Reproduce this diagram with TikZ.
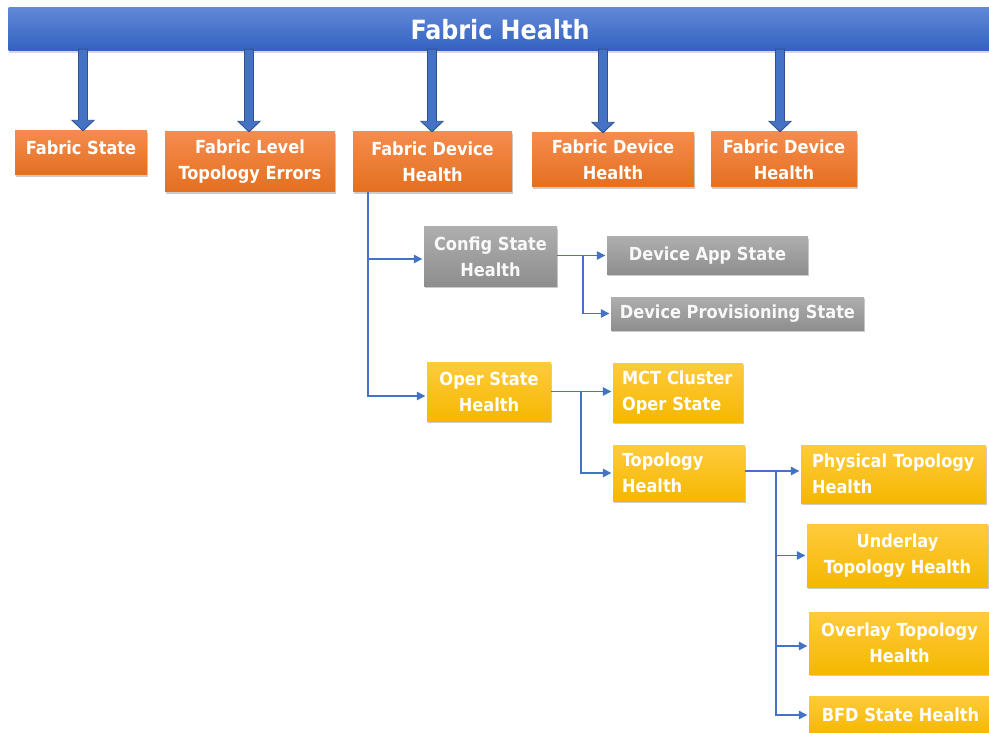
\documentclass[tikz,border=0pt]{standalone}
\usepackage{fontspec}
\newfontfamily\dvs{DejaVu Sans Condensed}
\usetikzlibrary{arrows.meta,shadows,calc}
\definecolor{barA}{HTML}{6189D8}
\definecolor{barB}{HTML}{3261C0}
\definecolor{orA}{HTML}{F48C4E}
\definecolor{orB}{HTML}{E46F1F}
\definecolor{grA}{HTML}{AEAEAE}
\definecolor{grB}{HTML}{8E8E8E}
\definecolor{yeA}{HTML}{FFCB3D}
\definecolor{yeB}{HTML}{F4B800}
\definecolor{arrBlue}{HTML}{4472C4}
\definecolor{arrDark}{HTML}{2F528F}
\definecolor{lineBlue}{HTML}{4472C4}
\newcommand\fatArr[2]{%
  \path[fatarr] let \p1=(#1.north), \p2=(bar.south) in
   (#2pt-4.5pt,\y2+2pt) -- (#2pt-4.5pt,\y1+10.5pt) -- (#2pt-11pt,\y1+10.5pt) --
   (#2pt,\y1) -- (#2pt+11pt,\y1+10.5pt) -- (#2pt+4.5pt,\y1+10.5pt) --
   (#2pt+4.5pt,\y2+2pt) -- cycle;}
\begin{document}
\begin{tikzpicture}[x=1pt,y=-1pt,
  box/.style={rectangle, inner sep=0pt, text=white,
    font=\dvs\bfseries\fontsize{18}{26}\selectfont, align=center,
    drop shadow={shadow xshift=0.8pt, shadow yshift=-2.2pt, opacity=0.4}},
  orange/.style={box, top color=orA, bottom color=orB},
  grey/.style={box, top color=grA, bottom color=grB, text=white!95!gray},
  yel/.style={box, top color=yeA, bottom color=yeB},
  lbox/.style={align=left, inner xsep=9pt, text width=#1},
  sz/.style 2 args={minimum width=#1pt, minimum height=#2pt},
  fatarr/.style={fill=arrBlue, draw=arrDark, line width=0.9pt},
  conn/.style={draw=lineBlue, line width=1.4pt, shorten >=1.5pt,
    -{Triangle[width=8.5pt,length=8.5pt]}}]
\useasboundingbox (0,0) rectangle (989,733);
\fill[white] (0,0) rectangle (989,733);
% title bar
\node[rectangle, top color=barA, bottom color=barB, text=white,
  font=\dvs\bfseries\fontsize{26.5}{30}\selectfont,
  drop shadow={shadow xshift=0.6pt, shadow yshift=-2pt, opacity=0.3},
  sz={983}{43.5}] (bar) at (500,29.2) {Fabric Health};
% level 1
\node[orange, sz={132}{44}, text depth=10pt] (fs) at (81,153) {Fabric State};
\node[orange, sz={170}{60}] (flt) at (250,162) {Fabric Level\\Topology Errors};
\node[orange, sz={159}{60}] (fdh) at (432.5,162) {Fabric Device\\Health};
\node[orange, sz={162}{54}] (fdhb) at (613,160) {Fabric Device\\Health};
\node[orange, sz={146}{55}] (fdhc) at (784,159.5) {Fabric Device\\Health};
% config branch
\node[grey, sz={133}{59}] (cfg) at (490.5,256.5) {Config State\\Health};
\node[grey, sz={201}{37}] (app) at (707.5,255.5) {Device App State};
\node[grey, sz={253}{33}] (prov) at (737.5,313.5) {Device Provisioning State};
% oper branch
\node[yel, sz={124}{59}] (oper) at (489,391.5) {Oper State\\Health};
\node[yel, sz={130}{59}, lbox=112pt] (mct) at (678,392.5) {MCT Cluster\\Oper State};
\node[yel, sz={132}{56}, lbox=114pt] (topo) at (679,473) {Topology\\Health};
\node[yel, sz={185}{58}, lbox=163pt, inner xsep=11pt] (phys) at (893.5,474) {Physical Topology\\Health};
\node[yel, sz={181}{63}] (under) at (897.5,555.5) {Underlay\\Topology Health};
\node[yel, sz={181}{62}] (over) at (899.5,643) {Overlay Topology\\Health};
\node[yel, sz={183}{38}] (bfd) at (900.5,715) {BFD State Health};
% fat arrows
\fatArr{fs}{83}
\fatArr{flt}{249}
\fatArr{fdh}{432}
\fatArr{fdhb}{603}
\fatArr{fdhc}{780}
% thin connectors
\coordinate (j0) at (368,192);
\draw[conn] (j0) |- ($(cfg.west)+(0,2.5)$);
\draw[conn] (j0) |- ($(oper.west)+(0,4.5)$);
\draw[conn] (cfg.east |- app.west) -- (app.west);
\coordinate (j1) at (583,255.5);
\draw[conn] (j1) |- (prov.west);
\draw[conn] (oper.east) -- (oper.east -| mct.west);
\coordinate (j2) at (581,391.5);
\draw[conn] (j2) |- (topo.west);
\draw[conn] ($(topo.east)+(0,-2)$) -- ($(topo.east -| phys.west)+(0,-2)$);
\coordinate (j3) at (776,471);
\draw[conn] (j3) |- (under.west);
\draw[conn] (j3) |- ($(over.west)+(0,3)$);
\draw[conn] (j3) |- (bfd.west);
\end{tikzpicture}
\end{document}
